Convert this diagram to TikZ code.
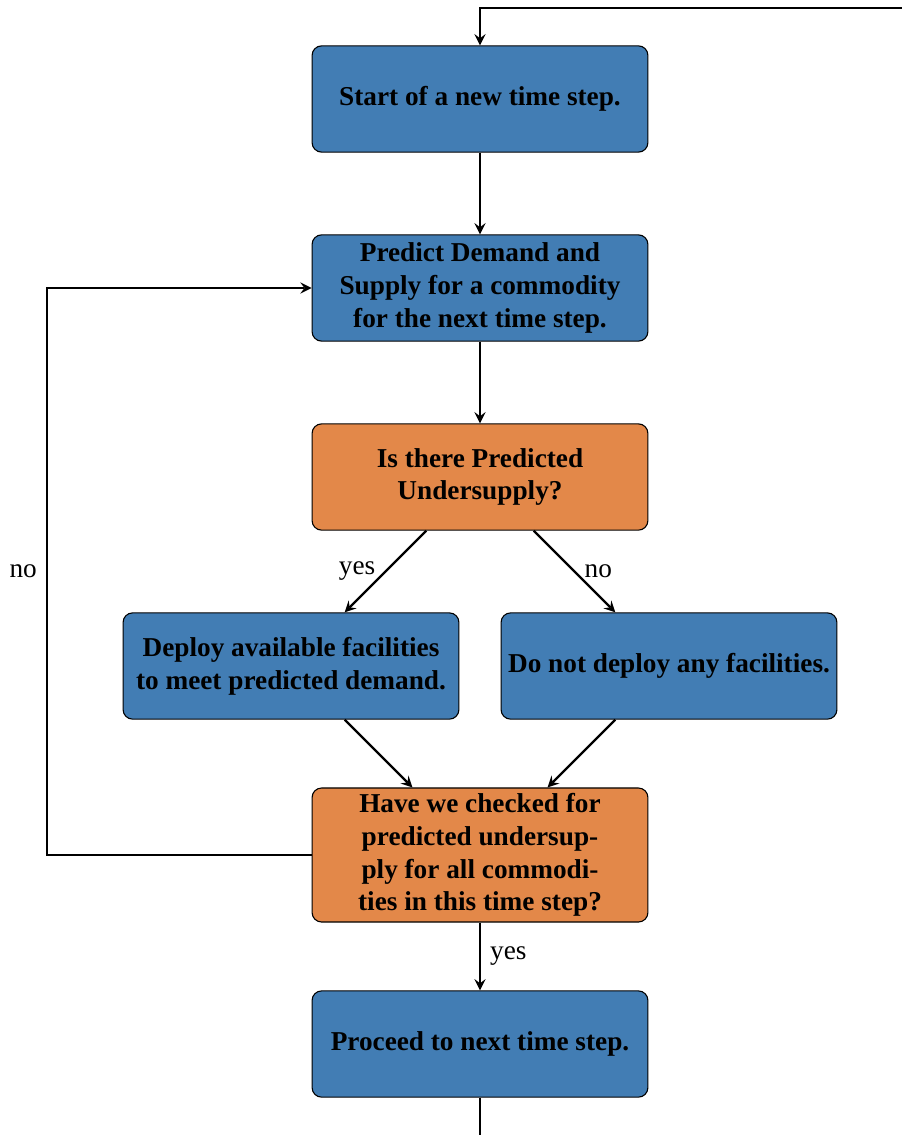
\documentclass[tikz,border=0pt]{standalone}
\usepackage{fontspec}
\setmainfont{Liberation Serif}
\definecolor{boxblue}{RGB}{66,125,180}
\definecolor{boxorange}{RGB}{227,136,73}

\begin{document}
\begin{tikzpicture}[>=stealth, x=0.01289cm, y=-0.01289cm,
  block/.style={draw, rounded corners=3.5pt, fill=boxblue, minimum width=4.33cm,
    minimum height=1.37cm, inner sep=2pt, align=center, font=\bfseries},
  query/.style={block, fill=boxorange},
  flow/.style={->, thick}]

\useasboundingbox (0,0) rectangle (901,1135);

% Kaestchen auf einem Raster mit 189 Einheiten Abstand
\node[block] (start) at (480,99) {Start of a new time step.};
\node[block] (predict) at (480,288) {Predict Demand and\\ Supply for a commodity\\ for the next time step.};
\node[query] (under) at (480,477) {Is there Predicted\\ Undersupply?};
\node[block] (deploy) at (291,666) {Deploy available facilities\\ to meet predicted demand.};
\node[block] (nodeploy) at (669,666) {Do not deploy any facilities.};
\node[query] (checked) at (480,855) {Have we checked for\\ predicted undersup-\\ ply for all commodi-\\ ties in this time step?};
\node[block] (proceed) at (480,1044) {Proceed to next time step.};

% Hilfspunkte fuer die Rueckfuehrungen
\coordinate (backleft) at (47,855);
\coordinate (downend) at (480,1136);
\coordinate (farright) at (960,1136);
\coordinate (topright) at (960,8);
\coordinate (topleft) at (480,8);

% Pfeile
\draw[flow] (start) -- (predict);
\draw[flow] (predict) -- (under);
\draw[flow] (under) -- node[midway, left] {yes} (deploy);
\draw[flow] (under) -- node[midway, right] {no} (nodeploy);
\draw[flow] (deploy) -- (checked);
\draw[flow] (nodeploy) -- (checked);
\draw[flow] (checked) -- node[midway, right] {yes} (proceed);
\draw[flow] (checked.west) -- (backleft) |- node[pos=0.25, left] {no} (predict.west);
\draw[flow] (proceed) -- (downend) -- (farright) -- (topright) -- (topleft) -- (start);

\end{tikzpicture}
\end{document}
